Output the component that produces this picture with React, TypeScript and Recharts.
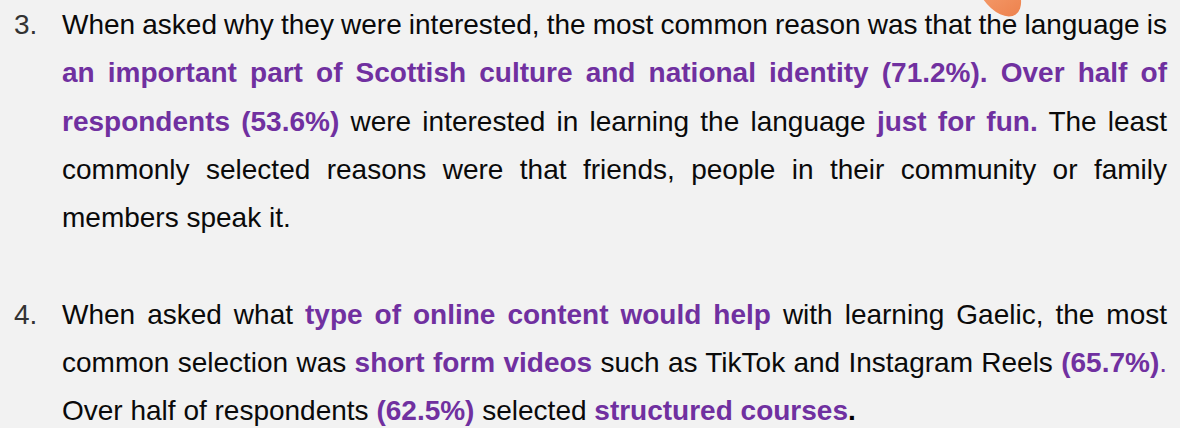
import React from 'react';
import { ScatterChart, Scatter, XAxis, YAxis } from 'recharts';

// segment kinds: n = plain, b = purple bold, p = purple plain, k = black bold
type Seg = [string, 'n' | 'b' | 'p' | 'k'];

const listNumbers = ['3.', '4.'];

const para3Lines: Seg[][] = [
    [['When asked why they were interested, the most common reason was that the language is', 'n']],
    [['an important part of Scottish culture and national identity (71.2%). Over half of', 'b']],
    [
        ['respondents (53.6%)', 'b'],
        [' were interested in learning the language ', 'n'],
        ['just for fun.', 'b'],
        [' The least', 'n'],
    ],
    [['commonly selected reasons were that friends, people in their community or family', 'n']],
    [['members speak it.', 'n']],
];

const para4Lines: Seg[][] = [
    [
        ['When asked what ', 'n'],
        ['type of online content would help', 'b'],
        [' with learning Gaelic, the most', 'n'],
    ],
    [
        ['common selection was ', 'n'],
        ['short form videos', 'b'],
        [' such as TikTok and Instagram Reels ', 'n'],
        ['(65.7%)', 'b'],
        ['.', 'p'],
    ],
    [
        ['Over half of respondents ', 'n'],
        ['(62.5%)', 'b'],
        [' selected ', 'n'],
        ['structured courses', 'b'],
        ['.', 'k'],
    ],
];

// the orange marker peeking in at the top edge
const blobPoint = [{ x: 998, y: -11 }];

const PURPLE = '#7030a0';
const LINE_H = 48.3;
const FONT = '"Liberation Sans", Arial, sans-serif';

const segStyle = (kind: Seg[1]): React.CSSProperties => {
    if (kind === 'b') return { color: PURPLE, fontWeight: 700 };
    if (kind === 'p') return { color: PURPLE };
    if (kind === 'k') return { color: '#000', fontWeight: 700 };
    return {};
};

const TextLine: React.FC<{ segs: Seg[]; last: boolean }> = ({ segs, last }) => (
    <div
        style={{
            height: LINE_H,
            whiteSpace: 'nowrap',
            textAlign: last ? 'left' : 'justify',
            textAlignLast: last ? 'left' : 'justify',
            wordSpacing: last ? 0 : -2,
        }}
    >
        {segs.map((s, i) => (
            <span key={i} style={segStyle(s[1])}>
                {s[0]}
            </span>
        ))}
    </div>
);

const Paragraph: React.FC<{ num: string; lines: Seg[][]; top: number }> = ({ num, lines, top }) => (
    <div style={{ position: 'absolute', top, left: 0, width: 1180 }}>
        <div style={{ position: 'absolute', left: 14, top: 0, color: '#333' }}>{num}</div>
        <div style={{ position: 'absolute', left: 62, top: 0, width: 1105 }}>
            {lines.map((l, i) => (
                <TextLine key={i} segs={l} last={i === lines.length - 1} />
            ))}
        </div>
    </div>
);

const Blob = (props: any) => {
    const { cx, cy } = props;
    return (
        <ellipse
            cx={cx}
            cy={cy}
            rx={31}
            ry={18}
            transform={`rotate(55 ${cx} ${cy})`}
            fill="url(#blobFill)"
        />
    );
};

const App: React.FC = () => {
    return (
        <div
            style={{
                position: 'fixed',
                left: 0,
                top: 0,
                width: 1180,
                height: 428,
                overflow: 'hidden',
                background: '#f2f2f2',
                fontFamily: FONT,
                fontSize: 28,
                lineHeight: `${LINE_H}px`,
                color: '#0a0a0a',
            }}
        >
            <Paragraph num={listNumbers[0]} lines={para3Lines} top={1} />
            <Paragraph num={listNumbers[1]} lines={para4Lines} top={1 + 6 * LINE_H} />
            <div style={{ position: 'absolute', left: 0, top: 0, pointerEvents: 'none' }}>
                <ScatterChart width={1180} height={428} margin={{ top: 0, right: 0, bottom: 0, left: 0 }}>
                    <defs>
                        <linearGradient id="blobFill" x1="0" y1="0" x2="1" y2="0">
                            <stop offset="0%" stopColor="#f8aa7c" />
                            <stop offset="100%" stopColor="#ee8450" />
                        </linearGradient>
                    </defs>
                    <XAxis type="number" dataKey="x" domain={[0, 1180]} allowDataOverflow hide />
                    <YAxis type="number" dataKey="y" domain={[0, 428]} reversed allowDataOverflow hide />
                    <Scatter data={blobPoint} shape={Blob} isAnimationActive={false} />
                </ScatterChart>
            </div>
        </div>
    );
};

export default App;
